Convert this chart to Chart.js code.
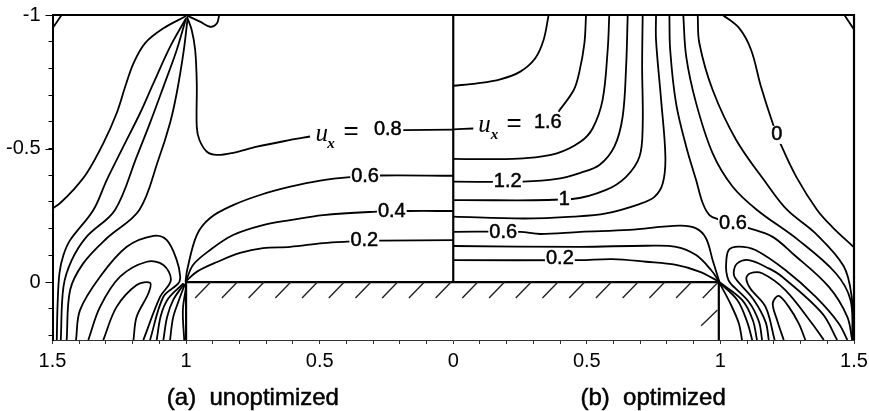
<!DOCTYPE html>
<html>
<head>
<meta charset="utf-8">
<style>body{margin:0;background:#fff}canvas{display:block}</style>
<script src="https://cdn.jsdelivr.net/npm/chart.js@4/dist/chart.umd.min.js"></script>
</head>
<body>
<canvas id="myChart" width="869" height="411"></canvas>
<script>
// x < 0 is panel (a), x > 0 is panel (b); y runs downwards from -1
const xTickValues = [-1.5, -1, -0.5, 0, 0.5, 1, 1.5];
const xTickLabels = ['1.5', '1', '0.5', '0', '0.5', '1', '1.5'];
const yTickValues = [-1, -0.5, 0];
const yTickLabels = ['-1', '-0.5', '0'];

// panel (a)
const a08 = [[-0.997,-0.994],[-0.979,-0.944],[-0.966,-0.869],[-0.960,-0.745],[-0.960,-0.581],[-0.950,-0.532],[-0.922,-0.488],[-0.885,-0.476],[-0.824,-0.484],[-0.735,-0.507],[-0.610,-0.532],[-0.536,-0.545],[null,null],[-0.187,-0.569],[0,-0.571]];
const a06 = [[-1.002,0],[-0.996,-0.045],[-0.960,-0.176],[-0.910,-0.240],[-0.824,-0.288],[-0.723,-0.326],[-0.610,-0.357],[-0.498,-0.380],[-0.386,-0.393],[-0.273,-0.399],[0,-0.398]];
const a04 = [[-1,-0.004],[-0.974,-0.064],[-0.910,-0.120],[-0.824,-0.176],[-0.712,-0.213],[-0.610,-0.232],[-0.487,-0.251],[-0.300,-0.263],[-0.172,-0.266],[0,-0.266]];
const a02 = [[-1,-0.004],[-0.959,-0.039],[-0.884,-0.075],[-0.798,-0.109],[-0.712,-0.127],[-0.610,-0.132],[-0.487,-0.146],[-0.397,-0.151],[-0.273,-0.155],[0,-0.157]];
const aFan1 = [[-1,-0.996],[-1.085,-0.950],[-1.154,-0.894],[-1.197,-0.819],[-1.228,-0.731],[-1.260,-0.632],[-1.310,-0.519],[-1.372,-0.407],[-1.422,-0.345],[-1.472,-0.295],[-1.498,-0.277]];
const aFan2 = [[-1,-0.988],[-1.060,-0.881],[-1.122,-0.745],[-1.172,-0.633],[-1.235,-0.507],[-1.297,-0.382],[-1.347,-0.270],[-1.434,-0.157],[-1.459,-0.101],[-1.474,-0.033],[-1.481,0.086],[-1.484,0.217]];
const aFan3 = [[-1,-0.988],[-1.035,-0.869],[-1.085,-0.731],[-1.135,-0.596],[-1.185,-0.469],[-1.266,-0.270],[-1.372,-0.170],[-1.428,-0.082],[-1.459,0.018],[-1.469,0.217]];
const aFan4 = [[-0.995,-0.981],[-1.010,-0.858],[-1.035,-0.708],[-1.060,-0.596],[-1.104,-0.457],[-1.175,-0.270],[-1.297,-0.164],[-1.385,-0.070],[-1.434,0.030],[-1.447,0.217]];
const aLoop1 = [[-1.412,0.217],[-1.397,0.105],[-1.322,-0.020],[-1.222,-0.132],[-1.122,-0.173],[-1.072,-0.157],[-1.035,-0.082],[-1.022,-0.020],[-1.029,0.005],[-1.085,0.055],[-1.135,0.217]];
const aLoop2 = [[-1.366,0.217],[-1.322,0.093],[-1.247,-0.020],[-1.147,-0.076],[-1.085,-0.064],[-1.057,-0.007],[-1.097,0.055],[-1.160,0.217]];
const aLoop3 = [[-1.310,0.217],[-1.260,0.093],[-1.185,0.011],[-1.135,0.003],[-1.141,0.042],[-1.185,0.130],[-1.197,0.217]];
const aLow1 = [[-1.010,0.005],[-1.066,0.061],[-1.094,0.124],[-1.110,0.217]];
const aLow2 = [[-1.007,0.006],[-1.048,0.067],[-1.071,0.131],[-1.085,0.217]];
const aLow3 = [[-1.004,0.007],[-1.029,0.074],[-1.049,0.135],[-1.060,0.217]];
const aLow4 = [[-1,0.018],[-1.012,0.105],[-1.007,0.217]];
const aCorner = [[-1.5,-0.950],[-1.466,-1]];
const aBump = [[-0.997,-0.998],[-0.948,-0.975],[-0.910,-0.956],[-0.885,-0.968],[-0.876,-1]];

// panel (b)
const b18 = [[0,-0.735],[0.089,-0.744],[0.176,-0.759],[0.251,-0.788],[0.307,-0.838],[0.338,-0.906],[0.357,-1]];
const b16 = [[0,-0.572],[0.075,-0.575],[null,null],[0.394,-0.638],[0.451,-0.719],[0.472,-0.787],[0.491,-0.895],[0.497,-1]];
const b14 = [[0,-0.461],[0.139,-0.460],[0.263,-0.463],[0.388,-0.482],[0.476,-0.525],[0.522,-0.576],[0.559,-0.682],[0.578,-0.869],[0.584,-1]];
const b12 = [[0,-0.376],[0.262,-0.376],[0.388,-0.386],[0.476,-0.409],[0.547,-0.438],[0.603,-0.507],[0.634,-0.619],[0.647,-0.806],[0.653,-1]];
const b10 = [[0,-0.307],[0.445,-0.311],[0.572,-0.345],[0.647,-0.394],[0.697,-0.469],[0.709,-0.582],[0.707,-0.806],[0.709,-1]];
const b08 = [[0,-0.245],[0.263,-0.238],[0.451,-0.245],[0.572,-0.257],[0.697,-0.292],[0.753,-0.319],[0.784,-0.369],[0.794,-0.469],[0.778,-0.682],[0.759,-0.906],[0.759,-1]];
const b06 = [[0,-0.188],[0.251,-0.188],[0.326,-0.180],[0.476,-0.188],[0.659,-0.195],[0.846,-0.211],[0.909,-0.201],[0.946,-0.164],[0.971,-0.082],[0.996,-0.001]];
const b04 = [[0,-0.135],[0.476,-0.132],[0.722,-0.136],[0.834,-0.132],[0.909,-0.101],[0.965,-0.045],[0.996,-0.001]];
const b02 = [[0,-0.082],[0.472,-0.082],[0.596,-0.086],[0.722,-0.076],[0.834,-0.064],[0.921,-0.039],[0.996,-0.001]];
const bOut3 = [[0.809,-1],[0.812,-0.869],[0.834,-0.669],[0.872,-0.507],[0.909,-0.382],[0.934,-0.295],[0.959,-0.251],[0.990,-0.236],[1.109,-0.201],[1.194,-0.170],[1.269,-0.108],[1.406,0.018],[1.475,0.130],[1.493,0.217]];
const bOut2 = [[0.861,-1],[0.872,-0.844],[0.909,-0.670],[0.971,-0.482],[1.046,-0.357],[1.137,-0.270],[1.292,-0.157],[1.431,-0.034],[1.487,0.067],[1.494,0.217]];
const bOut1 = [[0.915,-1],[0.921,-0.895],[0.971,-0.719],[1.059,-0.532],[1.171,-0.371],[1.250,-0.270],[1.356,-0.182],[1.461,-0.060],[1.491,0.052],[1.500,0.217]];
const bZero = [[1.009,-1],[1.071,-0.950],[1.115,-0.869],[1.152,-0.731],[1.196,-0.594],[1.227,-0.513],[1.284,-0.394],[1.362,-0.270],[1.418,-0.207],[1.500,-0.130]];
const bCorner = [[1.464,-1],[1.5,-0.946]];
const bLoop1 = [[1.475,0.217],[1.443,0.155],[1.356,0.055],[1.243,-0.045],[1.131,-0.120],[1.069,-0.133],[1.031,-0.120],[1.021,-0.057],[1.026,-0.019],[1.037,0.004],[1.106,0.074],[1.144,0.148],[1.156,0.217]];
const bLoop2 = [[1.437,0.217],[1.381,0.117],[1.231,-0.020],[1.181,-0.051],[1.106,-0.082],[1.063,-0.070],[1.050,-0.039],[1.056,-0.014],[1.125,0.067],[1.169,0.149],[1.181,0.217]];
const bLoop3 = [[1.387,0.217],[1.343,0.155],[1.243,0.030],[1.156,-0.033],[1.112,-0.033],[1.097,-0.014],[1.112,0.024],[1.169,0.093],[1.203,0.217]];
const bLoop4 = [[1.318,0.217],[1.293,0.155],[1.256,0.093],[1.218,0.052],[1.196,0.080],[1.212,0.142],[1.237,0.217]];
const bLow1 = [[0.994,-0.001],[1.037,0.080],[1.069,0.155],[1.081,0.217]];
const bLow2 = [[0.994,0],[1.063,0.067],[1.100,0.149],[1.119,0.217]];
const bLow3 = [[0.996,0],[1.081,0.067],[1.121,0.142],[1.137,0.217]];

const contours = [a08,a06,a04,a02,aFan1,aFan2,aFan3,aFan4,aLoop1,aLoop2,aLoop3,aLow1,aLow2,aLow3,aLow4,aCorner,aBump,
    b18,b16,b14,b12,b10,b08,b06,b04,b02,bOut3,bOut2,bOut1,bZero,bCorner,bLoop1,bLoop2,bLoop3,bLoop4,bLow1,bLow2,bLow3];

// hatching under the wall
const hatchLowX = [-0.966,-0.866,-0.766,-0.666,-0.566,-0.466,-0.366,-0.266,-0.166,-0.066,0.034,0.134,0.234,0.334,0.434,0.534,0.634,0.734,0.834,0.934];
const hatchHighX = [-0.908,-0.808,-0.708,-0.608,-0.508,-0.408,-0.308,-0.208,-0.108,-0.008,0.092,0.192,0.292,0.392,0.492,0.592,0.692,0.792,0.892,0.992];
const hatchSide = [[0.928,0.164],[0.989,0.105]];

const wall = [[-1,0.217],[-1,0],[0.994,0],[0.994,0.217]];
const midLine = [[0,-1],[0,0]];
const frame = [[-1.5,-1],[1.5,-1],[1.5,0.217]];

const labelText = ['0.8','0.6','0.4','0.2','1.6','1.2','1','0.6','0.2','0.6','0'];
const labelX = [-0.245,-0.330,-0.230,-0.333,0.354,0.204,0.416,0.187,0.399,1.047,1.211];
const labelY = [-0.573,-0.395,-0.264,-0.154,-0.599,-0.376,-0.309,-0.187,-0.088,-0.221,-0.551];

const panelText = ['(a)  unoptimized', '(b)  optimized'];
const panelX = [-0.75, 0.748];
const panelY = 0.434;

function toPoints(list) {
    return list.map(p => ({ x: p[0], y: p[1] }));
}

let datasets = contours.map(c => ({
    data: toPoints(c), showLine: true, pointRadius: 0, borderColor: '#000', borderWidth: 1.8, tension: 0.35
}));

let hatch = [];
hatchLowX.forEach((lx, i) => {
    hatch.push({ x: lx, y: 0.06 }, { x: hatchHighX[i], y: 0 }, { x: null, y: null });
});
hatch = hatch.concat(toPoints(hatchSide));
datasets.push({ data: hatch, showLine: true, pointRadius: 0, borderColor: '#222', borderWidth: 1.4 });
datasets.push({ data: toPoints(wall), showLine: true, pointRadius: 0, borderColor: '#000', borderWidth: 2.2 });
datasets.push({ data: toPoints(midLine), showLine: true, pointRadius: 0, borderColor: '#000', borderWidth: 2.2 });
datasets.push({ data: toPoints(frame), showLine: true, pointRadius: 0, borderColor: '#000', borderWidth: 2.2, clip: false });

const textPlugin = {
    id: 'textPlugin',
    afterDraw(chart) {
        const c = chart.ctx, sx = chart.scales.x, sy = chart.scales.y;
        c.save();
        c.textAlign = 'center';
        c.textBaseline = 'middle';
        c.strokeStyle = '#000';
        c.lineWidth = 0.5;

        c.font = '20px "Liberation Sans"';
        labelText.forEach((t, i) => {
            const px = sx.getPixelForValue(labelX[i]), py = sy.getPixelForValue(labelY[i]);
            const w = c.measureText(t).width + 2;
            c.fillStyle = '#fff';
            c.fillRect(px - w / 2, py - 9, w, 18);
            c.fillStyle = '#000';
            c.fillText(t, px, py);
            c.strokeText(t, px, py);
        });

        // u_x = in front of the two outer labels
        c.fillStyle = '#000';
        [[-0.492, -0.551, -0.458, -0.517, -0.382, -0.564], [0.117, -0.588, 0.154, -0.551, 0.228, -0.594]].forEach(n => {
            c.font = 'italic 25px "Liberation Serif"';
            c.fillText('u', sx.getPixelForValue(n[0]), sy.getPixelForValue(n[1]));
            c.font = 'italic bold 15px "Liberation Serif"';
            c.fillText('x', sx.getPixelForValue(n[2]), sy.getPixelForValue(n[3]));
            c.font = '26px "Liberation Sans"';
            c.fillText('=', sx.getPixelForValue(n[4]), sy.getPixelForValue(n[5]));
        });

        c.font = '24px "Liberation Sans"';
        panelText.forEach((t, i) => {
            c.fillText(t, sx.getPixelForValue(panelX[i]), sy.getPixelForValue(panelY));
            c.strokeText(t, sx.getPixelForValue(panelX[i]), sy.getPixelForValue(panelY));
        });

        // longer ticks at the labelled y values
        c.lineWidth = 1;
        yTickValues.forEach(v => {
            const py = Math.round(sy.getPixelForValue(v)) + 0.5;
            c.beginPath();
            c.moveTo(sx.left - 7, py);
            c.lineTo(sx.left, py);
            c.stroke();
        });
        c.restore();
    }
};

const myChart = new Chart(document.getElementById('myChart'), {
    type: 'scatter',
    data: { datasets: datasets },
    plugins: [textPlugin],
    options: {
        responsive: false,
        animation: false,
        layout: { padding: { top: 15, right: 15, left: 0, bottom: 0 } },
        plugins: { legend: { display: false }, tooltip: { enabled: false } },
        scales: {
            x: {
                type: 'linear',
                min: -1.5,
                max: 1.5,
                afterFit(scale) { scale.height = 71; scale.paddingLeft = 0; scale.paddingRight = 0; },
                border: { color: '#333', width: 1, dash: [26, 2] },
                grid: { drawOnChartArea: false, tickLength: 4, color: '#333' },
                ticks: {
                    stepSize: 0.1,
                    includeBounds: false,
                    autoSkip: false,
                    maxRotation: 0,
                    padding: 5,
                    color: '#000',
                    font: { family: 'Liberation Sans', size: 20 },
                    callback(v) {
                        const i = xTickValues.findIndex(t => Math.abs(t - v) < 0.001);
                        return i < 0 ? '' : xTickLabels[i];
                    }
                }
            },
            y: {
                type: 'linear',
                min: -1,
                max: 0.217,
                reverse: true,
                afterFit(scale) { scale.width = 52.5; scale.paddingTop = 0; scale.paddingBottom = 0; },
                border: { color: '#000', width: 2 },
                grid: { drawOnChartArea: false, tickLength: 4, color: '#000' },
                ticks: {
                    stepSize: 0.1,
                    includeBounds: false,
                    autoSkip: false,
                    padding: 8,
                    color: '#000',
                    font: { family: 'Liberation Sans', size: 20 },
                    callback(v) {
                        const i = yTickValues.findIndex(t => Math.abs(t - v) < 0.001);
                        return i < 0 ? '' : yTickLabels[i];
                    }
                }
            }
        }
    }
});
</script>
</body>
</html>
